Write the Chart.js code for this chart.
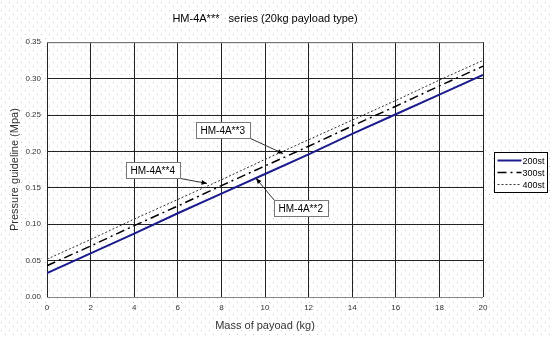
<!DOCTYPE html>
<html>
<head>
<meta charset="utf-8">
<script src="https://cdn.jsdelivr.net/npm/chart.js@4"></script>
<style>
  html, body { margin: 0; padding: 0; background: #fff; }
  #wrap { width: 550px; height: 337px; }
</style>
</head>
<body>
<div id="wrap"><canvas id="chart" width="550" height="337"></canvas></div>
<script>
const payload = [0, 2, 4, 6, 8, 10, 12, 14, 16, 18, 20];
const st200 = [0.033, 0.060, 0.087, 0.115, 0.142, 0.169, 0.196, 0.224, 0.251, 0.278, 0.305];
const st300 = [0.043, 0.070, 0.098, 0.125, 0.153, 0.180, 0.207, 0.235, 0.262, 0.290, 0.317];
const st400 = [0.052, 0.079, 0.107, 0.134, 0.161, 0.189, 0.216, 0.243, 0.270, 0.298, 0.325];
const seriesNames = ['200st', '300st', '400st'];
const callouts = [
    { text: 'HM-4A**3', box: [6.83, 0.2407], target: [10.83, 0.197] },
    { text: 'HM-4A**4', box: [3.62, 0.1854], target: [7.34, 0.156] },
    { text: 'HM-4A**2', box: [10.41, 0.1328], target: [9.59, 0.163] }
];

const pts = (ys) => payload.map((x, i) => ({ x: x, y: ys[i] }));

// dotted paper background
const dotsBg = {
    id: 'dotsBg',
    beforeDraw(chart) {
        const c = chart.ctx;
        c.save();
        c.fillStyle = '#fff';
        c.fillRect(0, 0, chart.width, chart.height);
        c.fillStyle = '#c8c8c8';
        for (let y = 2, r = 0; y < chart.height; y += 4, r++) {
            for (let x = (r % 2) * 4 + 1; x < chart.width; x += 8) {
                c.fillRect(x, y, 1, 1);
            }
        }
        c.restore();
    }
};

const extras = {
    id: 'extras',
    afterDraw(chart) {
        const c = chart.ctx;
        const xs = chart.scales.x, ys = chart.scales.y;
        const a = chart.chartArea;
        c.save();
        // frame
        c.strokeStyle = '#888';
        c.lineWidth = 1;
        c.beginPath();
        c.moveTo(a.left, a.top + 0.5); c.lineTo(a.right, a.top + 0.5);
        c.moveTo(a.left, a.bottom + 0.5); c.lineTo(a.right, a.bottom + 0.5);
        c.stroke();

        // callouts
        c.font = '10px "Liberation Sans", Arial, sans-serif';
        c.textBaseline = 'middle';
        callouts.forEach(co => {
            const bx = Math.round(xs.getPixelForValue(co.box[0])) + 0.5;
            const by = Math.round(ys.getPixelForValue(co.box[1])) + 0.5;
            const w = Math.round(c.measureText(co.text).width) + 10, h = 16;
            const tx = xs.getPixelForValue(co.target[0]);
            const ty = ys.getPixelForValue(co.target[1]);
            // arrow tail from nearest box corner
            const sx = tx > bx + w ? bx + w : bx;
            const sy = ty > by + h ? by + h : by;
            c.strokeStyle = '#333';
            c.beginPath(); c.moveTo(sx, sy); c.lineTo(tx, ty); c.stroke();
            const ang = Math.atan2(ty - sy, tx - sx);
            c.fillStyle = '#000';
            c.beginPath();
            c.moveTo(tx, ty);
            c.lineTo(tx - 6 * Math.cos(ang - 0.4), ty - 6 * Math.sin(ang - 0.4));
            c.lineTo(tx - 6 * Math.cos(ang + 0.4), ty - 6 * Math.sin(ang + 0.4));
            c.closePath(); c.fill();
            c.fillStyle = '#fff';
            c.fillRect(bx, by, w, h);
            c.strokeStyle = '#777';
            c.strokeRect(bx, by, w, h);
            c.fillStyle = '#000';
            c.textAlign = 'left';
            c.fillText(co.text, bx + 4, by + h / 2 + 1);
        });

        // legend box
        const lx = 494.5, ly = 152.5, lw = 53, lh = 40;
        c.fillStyle = '#fff';
        c.fillRect(lx, ly, lw, lh);
        c.strokeStyle = '#000';
        c.strokeRect(lx, ly, lw, lh);
        c.font = '9px "Liberation Sans", Arial, sans-serif';
        chart.data.datasets.forEach((ds, i) => {
            const y = ly + 8 + i * 12;
            c.strokeStyle = ds.borderColor;
            c.lineWidth = ds.borderWidth;
            c.setLineDash(ds.borderDash || []);
            c.beginPath(); c.moveTo(lx + 3, y); c.lineTo(lx + 27, y); c.stroke();
            c.setLineDash([]);
            c.fillStyle = '#000';
            c.fillText(ds.label, lx + 28, y + 1);
        });
        c.restore();
    }
};

new Chart(document.getElementById('chart'), {
    type: 'line',
    data: {
        datasets: [
            { label: seriesNames[0], data: pts(st200), borderColor: '#1c1c8e', borderWidth: 2, pointRadius: 0, tension: 0 },
            { label: seriesNames[1], data: pts(st300), borderColor: '#000', borderWidth: 1.5, borderDash: [9, 4, 2, 4], pointRadius: 0, tension: 0 },
            { label: seriesNames[2], data: pts(st400), borderColor: '#333', borderWidth: 1, borderDash: [2, 2], pointRadius: 0, tension: 0 }
        ]
    },
    options: {
        responsive: false,
        animation: false,
        layout: { padding: { top: 0, right: 67, bottom: 0, left: 0 } },
        plugins: {
            legend: { display: false },
            tooltip: { enabled: false },
            title: {
                display: true,
                fullSize: false,
                text: 'HM-4A***   series (20kg payload type)',
                color: '#000',
                font: { family: '"Liberation Sans", Arial, sans-serif', size: 11, weight: 'normal' },
                padding: { top: 12, bottom: 17 }
            }
        },
        scales: {
            x: {
                type: 'linear',
                min: 0,
                max: 20,
                afterFit: (s) => { s.height = 40; },
                ticks: { stepSize: 2, color: '#333', font: { family: '"Liberation Sans", Arial', size: 8 }, padding: 6 },
                grid: { color: '#222', drawTicks: false },
                border: { display: false },
                title: { display: true, text: 'Mass of payoad (kg)', color: '#333', font: { family: '"Liberation Sans", Arial', size: 11 }, padding: { top: 2 } }
            },
            y: {
                min: 0,
                max: 0.35,
                afterFit: (s) => { s.width = 47; },
                ticks: { stepSize: 0.05, color: '#333', font: { family: '"Liberation Sans", Arial', size: 8 }, padding: 6, callback: (v) => v.toFixed(2) },
                grid: { color: '#222', drawTicks: false },
                border: { display: true, color: '#222' },
                title: { display: true, text: 'Pressure guideline (Mpa)', color: '#333', font: { family: '"Liberation Sans", Arial', size: 11 }, padding: { top: 8, bottom: 0 } }
            }
        }
    },
    plugins: [dotsBg, extras]
});
</script>
</body>
</html>
